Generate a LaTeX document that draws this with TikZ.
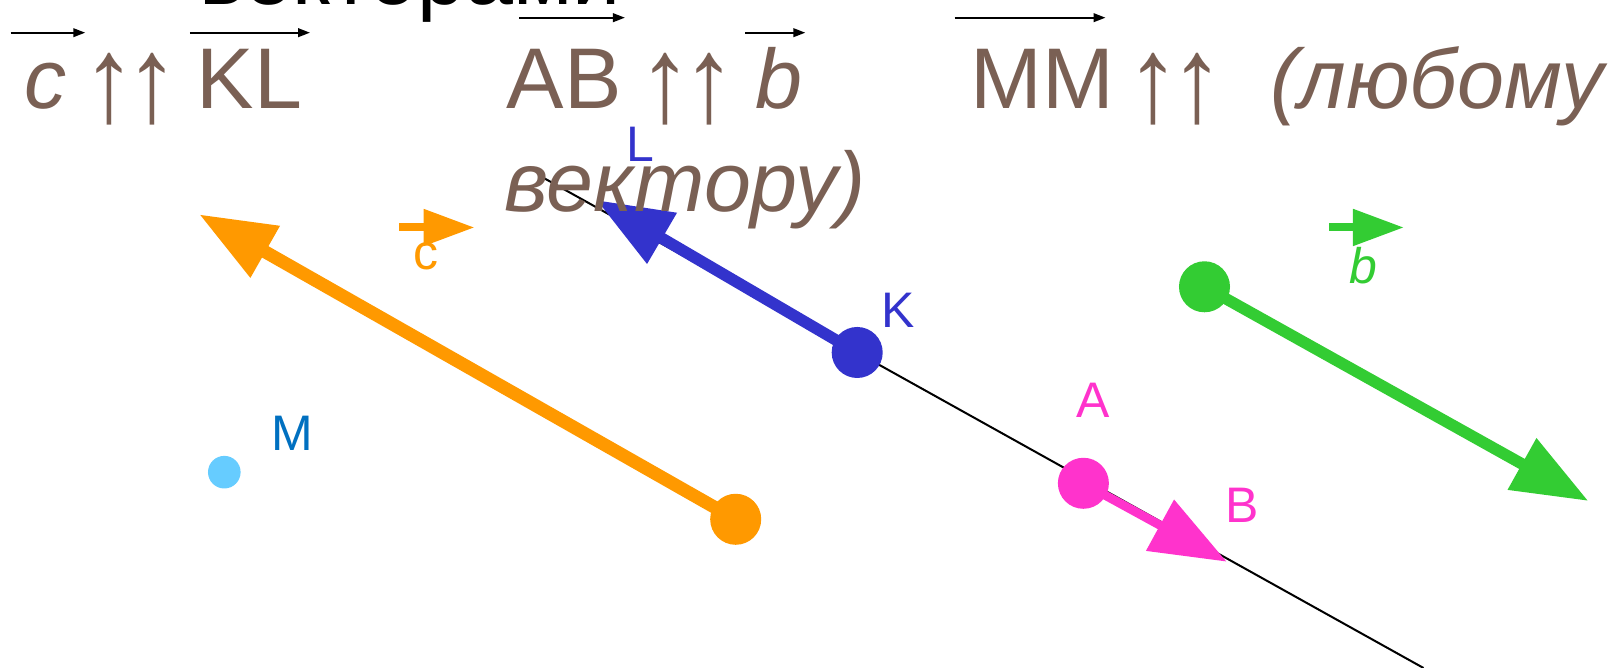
\documentclass[tikz,border=0pt]{standalone}
\usepackage{fontspec}
\setmainfont{Liberation Sans}
\usetikzlibrary{arrows.meta}
\definecolor{brn}{RGB}{122,96,84}
\definecolor{orng}{RGB}{255,153,0}
\definecolor{blu}{RGB}{51,51,204}
\definecolor{pnk}{RGB}{255,51,204}
\definecolor{grn}{RGB}{51,204,51}
\definecolor{cyn}{RGB}{102,204,255}
\definecolor{mblue}{RGB}{0,112,192}
\newcommand{\uparr}{\raisebox{-0.132cm}{\scalebox{1.25}[1.41]{↑}}}
\begin{document}
\begin{tikzpicture}[x=0.01cm,y=-0.01cm,
  bigtxt/.style={font=\fontsize{24.5pt}{29pt}\selectfont, text=brn, inner sep=0pt, anchor=base west},
  bigit/.style={font=\fontsize{24pt}{29pt}\selectfont\itshape, text=brn, inner sep=0pt, anchor=base west},
  arrtxt/.style={font=\fontsize{24.5pt}{29pt}\selectfont, text=brn, inner sep=0pt, anchor=base},
  lbl/.style={font=\fontsize{14.2pt}{17pt}\selectfont, inner sep=0pt, anchor=base west},
  dot/.style={circle, fill=#1, inner sep=0pt, minimum size=0.51cm},
  vec/.style={draw=#1, -{Triangle[length=0.76cm,width=0.56cm]}},
  smallvec/.style={draw=#1, line width=0.08cm, -{Triangle[length=0.51cm,width=0.35cm]}},
  ovr/.style={draw=black, line width=0.022cm, -{Triangle[length=0.12cm,width=0.085cm]}},
  thin/.style={draw=black, line width=0.02cm}
]
\useasboundingbox (0,0) rectangle (1608,668);
\clip (0,0) rectangle (1608,668);

% long thin line
\coordinate (ls) at (543,177.6);
\coordinate (le) at (1423.5,668);
\draw[thin] (ls) -- (le);

% points and vectors
\coordinate (Otip) at (199.1,214.3);
\coordinate (Ltip) at (596.4,200);
\coordinate (Btip) at (1226.7,561.7);
\coordinate (Gtip) at (1588.4,501);
\coordinate (Oc) at (735.7,519.3);
\coordinate (Kc) at (857.2,352.5);
\coordinate (Ac) at (1083.4,483.3);
\coordinate (Gc) at (1204.5,286.8);
\draw[vec=orng, line width=0.13cm] (Oc) -- (Otip);
\draw[vec=blu, line width=0.115cm] (Kc) -- (Ltip);
\draw[vec=pnk, line width=0.09cm] (Ac) -- (Btip);
\draw[vec=grn, line width=0.115cm] (Gc) -- (Gtip);
\node[dot=orng] (O) at (Oc) {};
\node[dot=blu] (K) at (Kc) {};
\node[dot=pnk] (A) at (Ac) {};
\node[dot=grn] (G) at (Gc) {};
\node[circle, fill=cyn, inner sep=0pt, minimum size=0.326cm] (M) at (224.3,472.2) {};

% labels
\node[lbl, text=blu] (lL) at (626,161.7) {L};
\node[lbl, text=blu] (lK) at (881,327.3) {K};
\node[lbl, text=pnk] (lA) at (1076,417.3) {A};
\node[lbl, text=pnk] (lB) at (1225,522.7) {B};
\node[lbl, text=mblue] (lM) at (271,450.7) {M};
\node[lbl, text=orng] (lc) at (413,270) {c};
\node[lbl, text=grn] (lb) at (1349,283.3) {\itshape b};
\coordinate (sc1) at (399,227.5); \coordinate (sc2) at (474.6,227.5);
\draw[smallvec=orng] (sc1) -- (sc2);
\coordinate (sb1) at (1329.2,227.5); \coordinate (sb2) at (1404,227.5);
\draw[smallvec=grn] (sb1) -- (sb2);

% top text
\node[bigtxt, text=black] (t0) at (199,5) {векторами};
\node[bigit] (t1) at (24,108.3) {c};
\node[arrtxt] (u1a) at (109.5,108.3) {\uparr};
\node[arrtxt] (u1b) at (152.3,108.3) {\uparr};
\node[bigtxt] (t2) at (196,108.3) {KL};
\node[bigtxt] (t3) at (506,108.3) {AB};
\node[arrtxt] (u2a) at (665,108.3) {\uparr};
\node[arrtxt] (u2b) at (709.4,108.3) {\uparr};
\node[bigit] (t4) at (755,108.3) {b};
\node[bigtxt] (t5) at (970,108.3) {MM};
\node[arrtxt] (u3a) at (1153.6,108.3) {\uparr};
\node[arrtxt] (u3b) at (1197.2,108.3) {\uparr};
\node[bigit] (t6) at (1270,108.3) {(любому};
\node[bigit] (t7) at (504,211.7) {вектору)};

% over-arrows
\coordinate (o1a) at (10.5,32.7); \coordinate (o1b) at (85.3,32.7);
\coordinate (o2a) at (189.9,32.7); \coordinate (o2b) at (310.1,32.7);
\coordinate (o3a) at (519.4,17.7); \coordinate (o3b) at (625,17.7);
\coordinate (o4a) at (745.3,32.7); \coordinate (o4b) at (805.4,32.7);
\coordinate (o5a) at (954.6,17.7); \coordinate (o5b) at (1105.6,17.7);
\draw[ovr] (o1a) -- (o1b);
\draw[ovr] (o2a) -- (o2b);
\draw[ovr] (o3a) -- (o3b);
\draw[ovr] (o4a) -- (o4b);
\draw[ovr] (o5a) -- (o5b);
\end{tikzpicture}
\end{document}
